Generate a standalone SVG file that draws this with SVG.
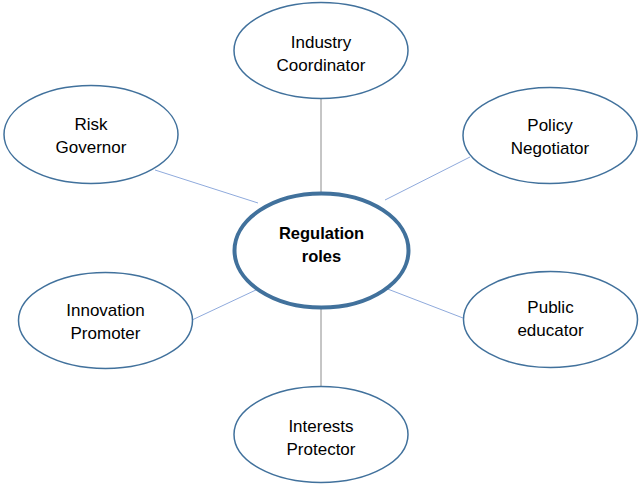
<svg xmlns="http://www.w3.org/2000/svg" width="639" height="486" viewBox="0 0 639 486">
<style>
.n{fill:#fff;stroke:#41719c;stroke-width:1.5}
.c{fill:#fff;stroke:#41719c;stroke-width:4}
.l{stroke:#8faadc;stroke-width:1;fill:none}
.v{stroke:#8c8c8c}
text{font-family:"Liberation Sans",Arial,sans-serif;font-size:17px;fill:#000;text-anchor:middle}
.b{font-weight:bold;font-size:16.5px}
</style>
<rect width="639" height="486" fill="#fff"/>
<g id="connectors">
<line class="l v" x1="321" y1="99" x2="321" y2="192"/>
<line class="l v" x1="321" y1="309" x2="321" y2="386"/>
<line class="l" x1="155" y1="170" x2="258" y2="203"/>
<line class="l" x1="470" y1="157" x2="385" y2="200"/>
<line class="l" x1="192" y1="320" x2="258" y2="289"/>
<line class="l" x1="463" y1="318" x2="385" y2="288"/>
</g>
<g id="industry"><ellipse class="n" cx="321" cy="50.5" rx="87" ry="48"/><text x="321" y="48">Industry</text><text x="321" y="71">Coordinator</text></g>
<g id="risk"><ellipse class="n" cx="91" cy="134.5" rx="87" ry="49"/><text x="91" y="130">Risk</text><text x="91" y="153">Governor</text></g>
<g id="policy"><ellipse class="n" cx="550" cy="135.5" rx="87" ry="48"/><text x="550" y="131">Policy</text><text x="550" y="154">Negotiator</text></g>
<g id="innovation"><ellipse class="n" cx="105.5" cy="320.5" rx="87" ry="48"/><text x="105.5" y="316">Innovation</text><text x="105.5" y="339">Promoter</text></g>
<g id="public"><ellipse class="n" cx="550.5" cy="319.5" rx="87" ry="48"/><text x="550.5" y="313">Public</text><text x="550.5" y="336">educator</text></g>
<g id="interests"><ellipse class="n" cx="321" cy="434.5" rx="87" ry="48"/><text x="321" y="432">Interests</text><text x="321" y="455">Protector</text></g>
<g id="center"><ellipse class="c" cx="321.5" cy="250.5" rx="87" ry="57"/><text class="b" x="321.5" y="239">Regulation</text><text class="b" x="321.5" y="262">roles</text></g>
</svg>
